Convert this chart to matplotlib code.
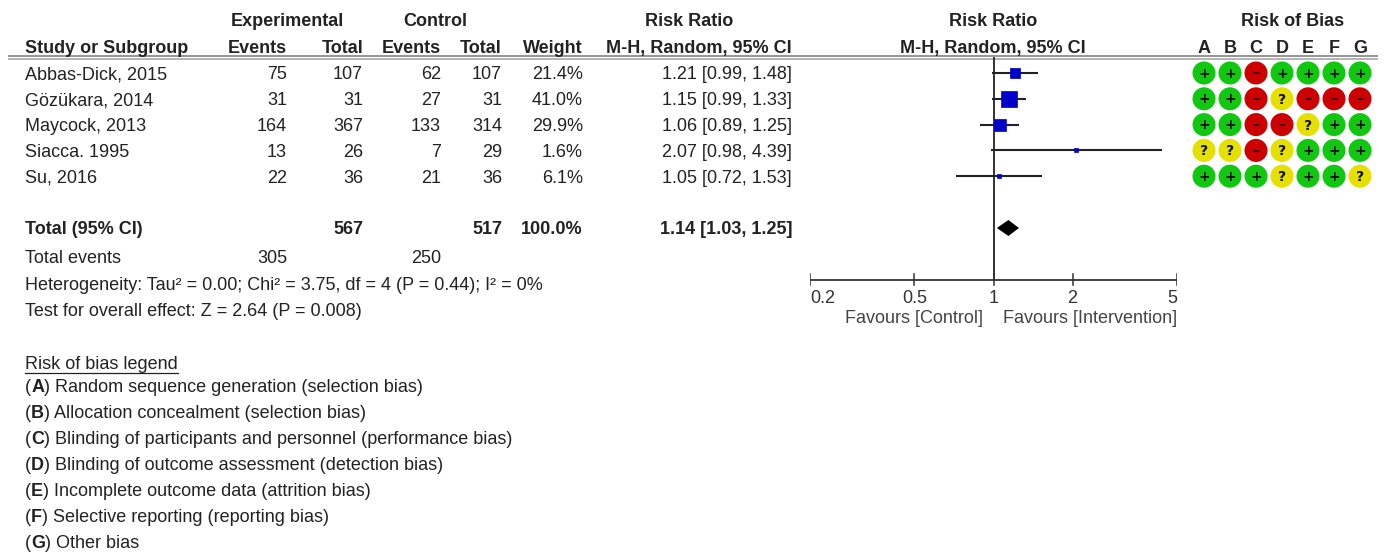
import matplotlib
matplotlib.use("Agg")
import matplotlib.pyplot as plt

plt.rcParams['font.family'] = ['Liberation Sans', 'DejaVu Sans']

# ---------------- data ----------------
studies = ["Abbas-Dick, 2015", "Gözükara, 2014", "Maycock, 2013", "Siacca. 1995", "Su, 2016"]
exp_events = [75, 31, 164, 13, 22]
exp_total = [107, 31, 367, 26, 36]
ctl_events = [62, 27, 133, 7, 21]
ctl_total = [107, 31, 314, 29, 36]
weights = [21.4, 41.0, 29.9, 1.6, 6.1]
rr = [1.21, 1.15, 1.06, 2.07, 1.05]
ci_lo = [0.99, 0.99, 0.89, 0.98, 0.72]
ci_hi = [1.48, 1.33, 1.25, 4.39, 1.53]
rob_domains = ["A", "B", "C", "D", "E", "F", "G"]
rob = [
    ["+", "+", "-", "+", "+", "+", "+"],
    ["+", "+", "-", "?", "-", "-", "-"],
    ["+", "+", "-", "-", "?", "+", "+"],
    ["?", "?", "-", "?", "+", "+", "+"],
    ["+", "+", "+", "?", "+", "+", "?"],
]
total_exp = 567
total_ctl = 517
total_weight = "100.0%"
total_rr = 1.14
total_lo = 1.03
total_hi = 1.25
total_exp_events = 305
total_ctl_events = 250
heterogeneity = "Heterogeneity: Tau² = 0.00; Chi² = 3.75, df = 4 (P = 0.44); I² = 0%"
overall = "Test for overall effect: Z = 2.64 (P = 0.008)"
axis_ticks = [0.2, 0.5, 1, 2, 5]
axis_labels = ["0.2", "0.5", "1", "2", "5"]
fav_left = "Favours [Control]"
fav_right = "Favours [Intervention]"
legend_title = "Risk of bias legend"
legend_items = [
    "Random sequence generation (selection bias)",
    "Allocation concealment (selection bias)",
    "Blinding of participants and personnel (performance bias)",
    "Blinding of outcome assessment (detection bias)",
    "Incomplete outcome data (attrition bias)",
    "Selective reporting (reporting bias)",
    "Other bias",
]

# ---------------- layout ----------------
W, H = 1385, 555
fig = plt.figure(figsize=(W / 100, H / 100), dpi=100)
ax = fig.add_axes([0, 0, 1, 1])
ax.set_xlim(0, W)
ax.set_ylim(H, 0)
ax.axis('off')

FX0, FX1 = 810, 1177
fx = fig.add_axes([FX0 / W, 0, (FX1 - FX0) / W, 1])
fx.set_xscale('log')
fx.set_xlim(0.2, 5)
fx.set_ylim(H, 0)
fx.axis('off')
fx.patch.set_alpha(0)

FS = 13
TC = '#222222'


def txt(x, y, s, ha='left', bold=False, color=TC, fs=FS, axes=None):
    a = axes if axes is not None else ax
    return a.text(x, y + 0.355 * fs * 100 / 72, s, ha=ha, va='baseline',
                  fontsize=fs, fontweight='bold' if bold else 'normal', color=color)


# header rows
y_h1, y_h2 = 20, 47
txt(287, y_h1, "Experimental", ha='center', bold=True)
txt(435, y_h1, "Control", ha='center', bold=True)
txt(689, y_h1, "Risk Ratio", ha='center', bold=True)
txt(993, y_h1, "Risk Ratio", ha='center', bold=True)
txt(1293, y_h1, "Risk of Bias", ha='center', bold=True)

col_exp_ev, col_exp_tot, col_ctl_ev, col_ctl_tot, col_w, col_rr = 287, 363, 441, 502, 583, 792
txt(25, y_h2, "Study or Subgroup", bold=True)
txt(col_exp_ev, y_h2, "Events", ha='right', bold=True)
txt(col_exp_tot, y_h2, "Total", ha='right', bold=True)
txt(col_ctl_ev, y_h2, "Events", ha='right', bold=True)
txt(col_ctl_tot, y_h2, "Total", ha='right', bold=True)
txt(col_w, y_h2, "Weight", ha='right', bold=True)
txt(col_rr, y_h2, "M-H, Random, 95% CI", ha='right', bold=True)
txt(993, y_h2, "M-H, Random, 95% CI", ha='center', bold=True)

rob_x = [1204, 1230, 1256, 1282, 1308, 1334, 1360]
for xd, d in zip(rob_x, rob_domains):
    txt(xd, y_h2, d, ha='center', bold=True)

# double header line
ax.plot([8, 1378], [56.2, 56.2], color='#8c8c8c', lw=1.3, solid_capstyle='butt')
ax.plot([8, 1378], [59.4, 59.4], color='#a0a0a0', lw=1.1, solid_capstyle='butt')

# study rows
row_y = [73 + 25.8 * i for i in range(len(studies))]
for i, y in enumerate(row_y):
    txt(25, y, studies[i])
    txt(col_exp_ev, y, str(exp_events[i]), ha='right')
    txt(col_exp_tot, y, str(exp_total[i]), ha='right')
    txt(col_ctl_ev, y, str(ctl_events[i]), ha='right')
    txt(col_ctl_tot, y, str(ctl_total[i]), ha='right')
    txt(col_w, y, f"{weights[i]:.1f}%", ha='right')
    txt(col_rr, y, f"{rr[i]:.2f} [{ci_lo[i]:.2f}, {ci_hi[i]:.2f}]", ha='right')

# totals
y_tot = 228
txt(25, y_tot, "Total (95% CI)", bold=True)
txt(col_exp_tot, y_tot, str(total_exp), ha='right', bold=True)
txt(col_ctl_tot, y_tot, str(total_ctl), ha='right', bold=True)
txt(col_w, y_tot, total_weight, ha='right', bold=True)
txt(col_rr, y_tot, f"{total_rr:.2f} [{total_lo:.2f}, {total_hi:.2f}]", ha='right', bold=True)
y_ev = 257
txt(25, y_ev, "Total events")
txt(col_exp_ev, y_ev, str(total_exp_events), ha='right')
txt(col_ctl_ev, y_ev, str(total_ctl_events), ha='right')
txt(25, 284, heterogeneity)
txt(25, 310, overall)

# forest plot
y_axis = 279.5
fx.plot([1, 1], [58, y_axis], color='#222222', lw=1.3)
for i, y in enumerate(row_y):
    fx.plot([ci_lo[i], ci_hi[i]], [y, y], color='#222222', lw=1.5, solid_capstyle='butt')
    side = 3 + 0.3 * weights[i]
    fx.plot([rr[i]], [y], marker='s', ms=side * 0.72, color='#0000c8', mec='#0000c8', mew=0.5)
fx.fill([total_lo, total_rr, total_hi, total_rr], [y_tot, y_tot - 8, y_tot, y_tot + 8],
        color='black', lw=0)
fx.plot([axis_ticks[0], axis_ticks[-1]], [y_axis, y_axis], color='#333333', lw=1.3)
for t, lab in zip(axis_ticks, axis_labels):
    fx.plot([t, t], [y_axis - 5.5, y_axis + 5.5], color='#333333', lw=1.1)
    ha = 'center'
    if t == axis_ticks[0]:
        ha = 'left'
    elif t == axis_ticks[-1]:
        ha = 'right'
    txt(t, 297, lab, ha=ha, color='#333333', axes=fx)
txt(983, 317, fav_left, ha='right', color='#444444')
txt(1177, 317, fav_right, ha='right', color='#444444')

# risk of bias circles
rob_col = {'+': '#10c810', '-': '#cc0000', '?': '#e6e000'}
rob_sym = {'+': '+', '-': '–', '?': '?'}
for i, y in enumerate(row_y):
    for j, xd in enumerate(rob_x):
        v = rob[i][j]
        ax.scatter([xd], [y], s=275, color=rob_col[v], edgecolors='none', zorder=3)
        ax.text(xd, y + (0.5 if v != '?' else 1.0), rob_sym[v], ha='center', va='center',
                fontsize=10, fontweight='bold', color='#111111', zorder=4,
                family=['DejaVu Sans'])

# legend
y_leg = 363
t = txt(25, y_leg, legend_title)
fig.canvas.draw()
r = fig.canvas.get_renderer()
bb = t.get_window_extent(r)
ax.plot([bb.x0, bb.x1], [y_leg + 9.5, y_leg + 9.5], color=TC, lw=0.9)
for k, item in enumerate(legend_items):
    y = 386 + 26 * k
    p1 = txt(25, y, "(")
    x = p1.get_window_extent(r).x1
    p2 = txt(x, y, rob_domains[k], bold=True)
    x = p2.get_window_extent(r).x1
    p3 = txt(x, y, ") " + item)

fig.savefig("out.png", dpi=100)
